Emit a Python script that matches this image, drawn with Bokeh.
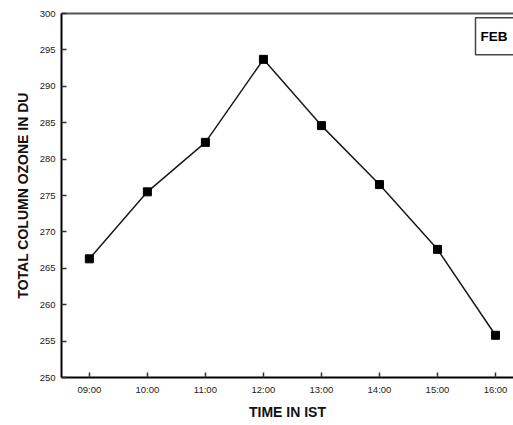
from bokeh.plotting import figure
from bokeh.models import Range1d, FixedTicker, LinearAxis, Label
from bokeh.embed import file_html
from bokeh.resources import INLINE

# Data
time_labels = ["09:00", "10:00", "11:00", "12:00", "13:00", "14:00", "15:00", "16:00"]
hours = [9, 10, 11, 12, 13, 14, 15, 16]
ozone_du = [266.3, 275.5, 282.3, 293.7, 284.6, 276.5, 267.6, 255.8]
y_ticks = [250, 255, 260, 265, 270, 275, 280, 285, 290, 295, 300]

p = figure(width=513, height=425, output_backend="svg", toolbar_location=None,
           x_range=Range1d(8.52, 16.31), y_range=Range1d(250, 300),
           min_border_left=61, min_border_right=0, min_border_top=13, min_border_bottom=48)
p.grid.visible = False
p.outline_line_color = None
p.background_fill_color = "white"
p.border_fill_color = "white"

p.line(hours, ozone_du, line_color="#1a1a1a", line_width=1.5)
p.scatter(hours, ozone_du, marker="square", size=8, fill_color="black", line_color="black")

label_font = "Liberation Sans"

xa = p.xaxis[0]
xa.ticker = FixedTicker(ticks=hours)
xa.major_label_overrides = {h: t for h, t in zip(hours, time_labels)}
xa.axis_label = "TIME IN IST"
ya = p.yaxis[0]
ya.ticker = FixedTicker(ticks=y_ticks)
ya.axis_label = "TOTAL COLUMN OZONE IN DU"

for ax in (xa, ya):
    ax.axis_line_color = "black"
    ax.axis_line_width = 2
    ax.major_tick_in = 5
    ax.major_tick_out = 0
    ax.major_tick_line_color = "#333333"
    ax.major_tick_line_width = 1.5
    ax.minor_tick_line_color = None
    ax.major_label_text_font = label_font
    ax.major_label_text_font_size = "9.5px"
    ax.major_label_text_color = "#222222"
    ax.axis_label_text_font = label_font
    ax.axis_label_text_font_style = "bold"
    ax.axis_label_text_font_size = "14px"
    ax.axis_label_text_color = "#111111"
    ax.major_label_standoff = 6
    ax.axis_label_standoff = 6

top = LinearAxis(ticker=FixedTicker(ticks=[]), major_label_text_font_size="0px",
                 axis_line_color="#555555", axis_line_width=2,
                 major_tick_line_color=None, minor_tick_line_color=None)
p.add_layout(top, "above")

lbl = Label(x=15.655, y=299.4, text="FEB", text_baseline="top", text_align="left",
            text_font=label_font, text_font_style="bold", text_font_size="13.5px",
            text_color="black", padding=dict(left=5, right=8, top=11, bottom=11),
            border_line_color="#444444",
            border_line_width=1.5, background_fill_color="white")
p.add_layout(lbl)

open("out.html", "w").write(file_html(p, INLINE))
